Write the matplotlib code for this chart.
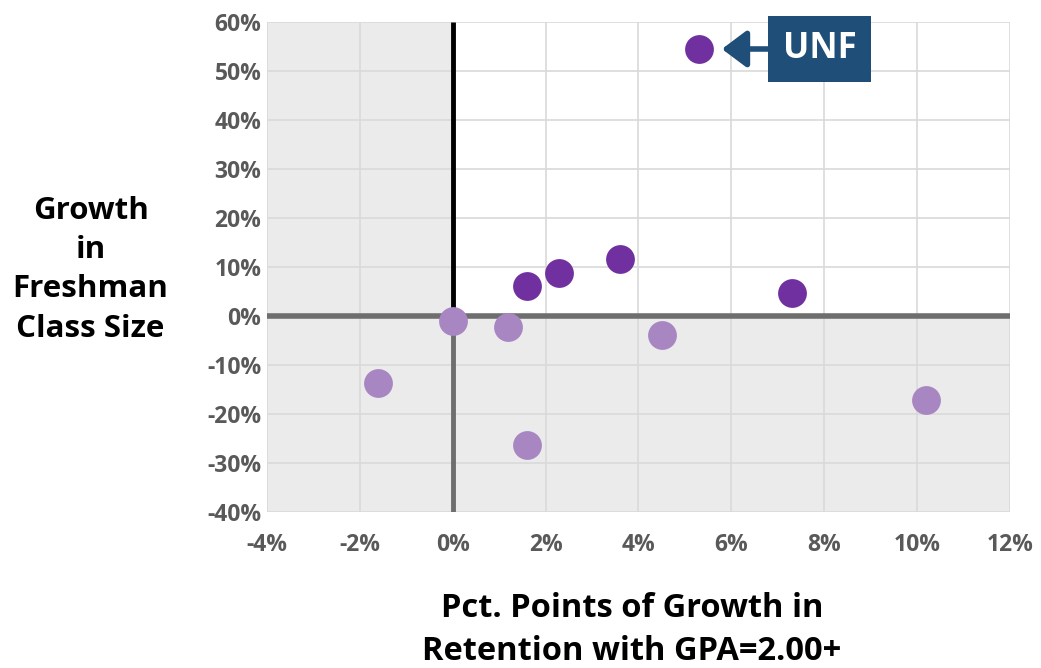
import matplotlib.pyplot as plt
from matplotlib.ticker import FuncFormatter, MultipleLocator

# Growth in retention (pct points) vs growth in freshman class size
up_x = [5.3, 1.6, 2.3, 3.6, 7.3]
up_y = [54.5, 6.2, 8.7, 11.6, 4.6]
down_x = [0.0, 1.2, 4.5, -1.6, 10.2, 1.6]
down_y = [-1.1, -2.2, -3.9, -13.7, -17.2, -26.3]
label_x = 5.3
label_y = 54.5

plt.rcParams['font.family'] = ['Open Sans', 'DejaVu Sans']

fig = plt.figure(figsize=(10.41, 6.68), dpi=100)
ax = fig.add_axes([0.2565, 0.2335, 0.7135, 0.7335])
ax.set_xlim(-4, 12)
ax.set_ylim(-40, 60)

gray = '#EBEBEB'
ax.axvspan(-4, 0, color=gray, zorder=0, lw=0)
ax.fill_between([0, 12], -40, 0, color=gray, zorder=0, lw=0)

ax.xaxis.set_major_locator(MultipleLocator(2))
ax.yaxis.set_major_locator(MultipleLocator(10))
ax.grid(True, color='#D9D9D9', lw=1.2, zorder=1)
ax.set_axisbelow(True)
for s in ax.spines.values():
    s.set_visible(False)

ax.axhline(0, color='#6E6E6E', lw=4, zorder=2)
ax.plot([0, 0], [0, 60], color='black', lw=3.5, zorder=2, solid_capstyle='butt')
ax.plot([0, 0], [-40, 0], color='#6E6E6E', lw=3.5, zorder=2, solid_capstyle='butt')

ax.scatter(down_x, down_y, s=430, color='#A886C2', zorder=3, lw=0)
ax.scatter(up_x, up_y, s=430, color='#7030A0', zorder=4, lw=0)

pct = FuncFormatter(lambda v, p: f"{v:.0f}%")
ax.xaxis.set_major_formatter(pct)
ax.yaxis.set_major_formatter(pct)
ax.tick_params(length=0, labelsize=16.5, labelcolor='#595959', pad=4)
for t in ax.get_xticklabels() + ax.get_yticklabels():
    t.set_fontweight('bold')
ax.tick_params(axis='x', pad=15)

ax.annotate("UNF", xy=(label_x + 0.5, label_y), xytext=(label_x + 2.6, label_y),
            ha='center', va='center', color='white', fontsize=25, fontweight='bold',
            bbox=dict(boxstyle='square,pad=0.42', fc='#1F4E79', ec='none'),
            arrowprops=dict(arrowstyle='-|>,head_length=0.6,head_width=0.45',
                            color='#1F4E79', lw=4, shrinkA=0, shrinkB=0),
            zorder=5)

fig.text(0.087, 0.596, "Growth\nin\nFreshman\nClass Size", ha='center', va='center',
         fontsize=22.5, fontweight='bold', linespacing=1.4)
fig.text(0.607, 0.057, "Pct. Points of Growth in\nRetention with GPA=2.00+", ha='center',
         va='center', fontsize=23.5, fontweight='bold', linespacing=1.4)

fig.savefig("out.png", dpi=100)
